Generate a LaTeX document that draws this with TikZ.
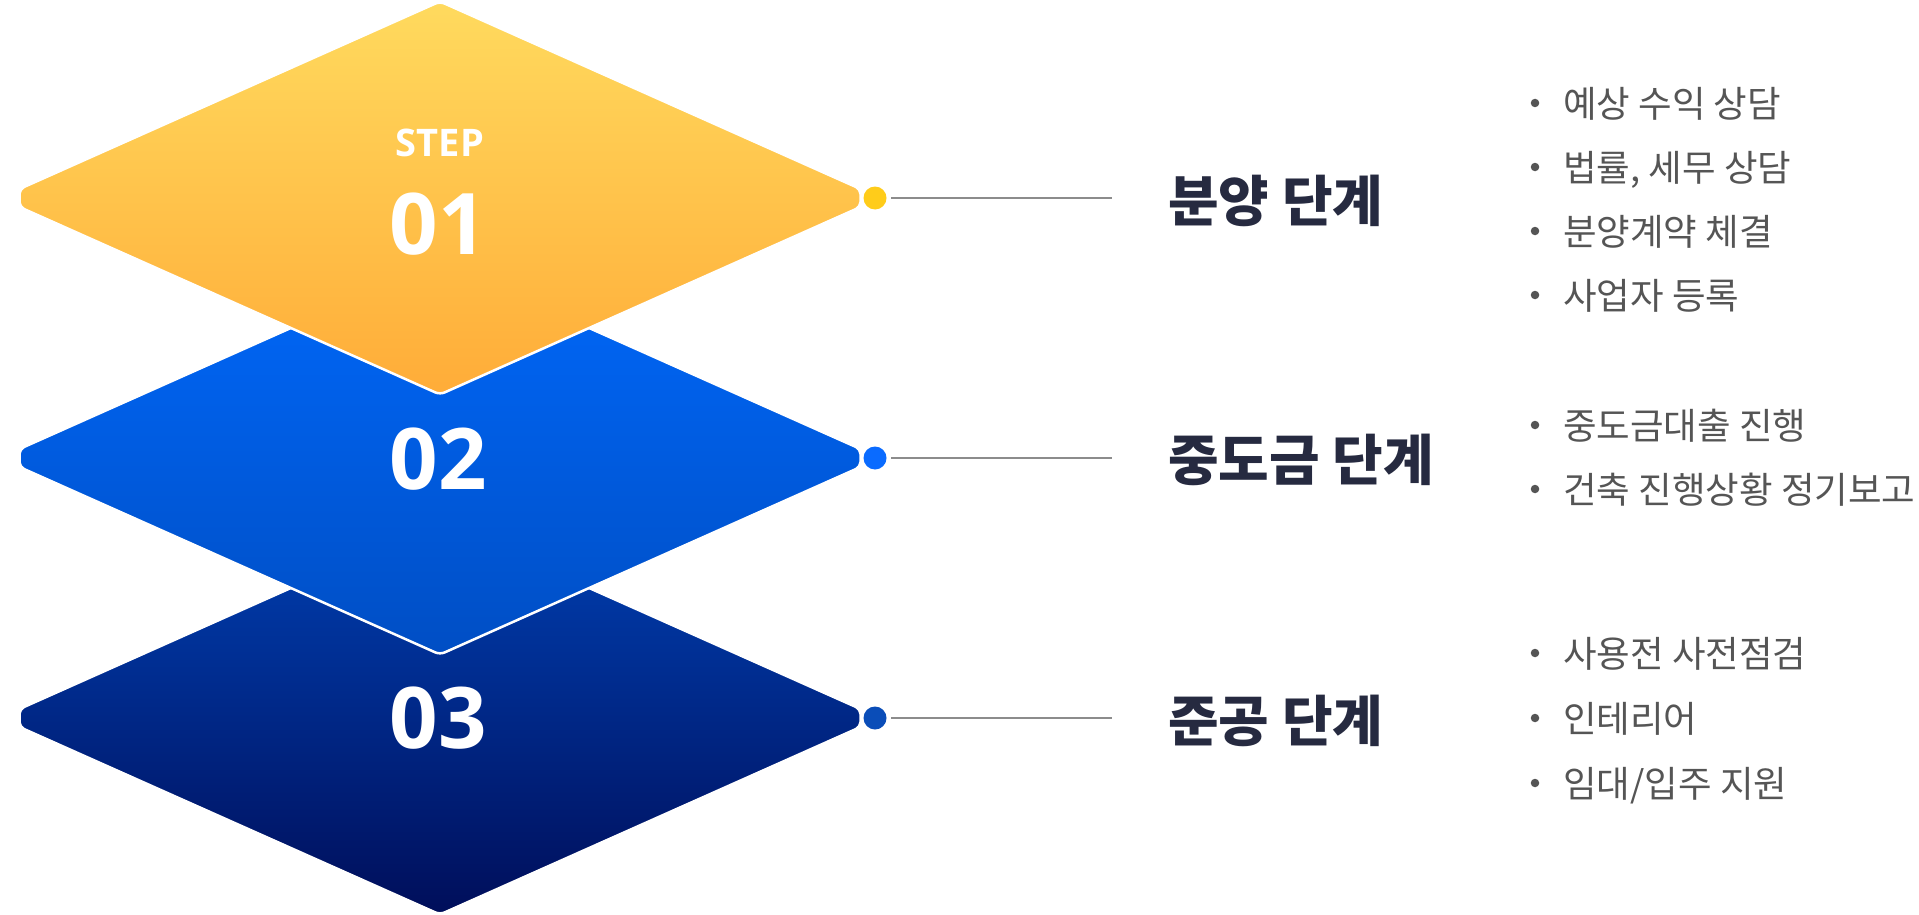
\documentclass[tikz,border=0pt]{standalone}
\usepackage{fontspec}
\newfontfamily\krfont{Noto Sans CJK KR}
\newfontfamily\osfont{Open Sans}
\definecolor{yTop}{HTML}{FFDA5E}
\definecolor{yBot}{HTML}{FFAC38}
\definecolor{bTop}{HTML}{0068FA}
\definecolor{bBot}{HTML}{004EC4}
\definecolor{nTop}{HTML}{0040B2}
\definecolor{nBot}{HTML}{000E5A}
\definecolor{dotY}{HTML}{FFCC1A}
\definecolor{dotB}{HTML}{0A6BFF}
\definecolor{dotN}{HTML}{0A4DB8}
\definecolor{titleC}{HTML}{262A40}
\definecolor{textC}{HTML}{555555}
\definecolor{lineC}{HTML}{8C8C8C}
\newcommand{\diapath}{(440,1.5) -- (860.5,189) -- (860.5,207) -- (440,394.5) -- (19.5,207) -- (19.5,189) -- cycle}
\begin{document}
\begin{tikzpicture}[x=1pt,y=-1pt,
  diashape/.style={draw=white,line width=2.5pt,rounded corners=5pt},
  stepdot/.style={circle,inner sep=0pt,minimum size=23pt},
  link/.style={draw=lineC,line width=2.2pt,shorten <=4.5pt},
  title/.style={anchor=base west,inner sep=0pt,text=titleC,font=\krfont\bfseries\fontsize{55}{60}\selectfont},
  item/.style={anchor=base west,inner sep=0pt,text=textC,font=\krfont\fontsize{36.5}{42}\selectfont},
  bul/.style={circle,fill=textC,inner sep=0pt,minimum size=8.5pt},
  num/.style={inner sep=0pt,text=white,font=\osfont\bfseries\fontsize{85}{90}\selectfont},
  steplbl/.style={inner sep=0pt,text=white,font=\osfont\bfseries\fontsize{38}{42}\selectfont}]
\useasboundingbox (0,0) rectangle (1919,915);
\fill[white] (0,0) rectangle (1919,915);
% diamonds (bottom first)
\shadedraw[diashape,shift={(0,520)},top color=nTop,bottom color=nBot] \diapath;
\shadedraw[diashape,shift={(0,260)},top color=bTop,bottom color=bBot] \diapath;
\shadedraw[diashape,top color=yTop,bottom color=yBot] \diapath;
% numbers
\node[steplbl] (step) at (440,143) {STEP};
\node[num] (n1) at (438,224) {01};
\node[num] (n2) at (438,459) {02};
\node[num] (n3) at (438,718) {03};
% dots
\node[stepdot,fill=dotY] (d1) at (875,198) {};
\node[stepdot,fill=dotB] (d2) at (875,458) {};
\node[stepdot,fill=dotN] (d3) at (875,718) {};
\coordinate (e1) at (1112,198);
\coordinate (e2) at (1112,458);
\coordinate (e3) at (1112,718);
\draw[link] (d1.east) -- (e1);
\draw[link] (d2.east) -- (e2);
\draw[link] (d3.east) -- (e3);
% titles
\node[title] (t1) at (1168,221.3) {분양 단계};
\node[title] (t2) at (1168,480.3) {중도금 단계};
\node[title] (t3) at (1168,741.3) {준공 단계};
% bullet items
\foreach \nm/\yy/\txt in {a1/103/{예상 수익 상담}, a2/167/{법률, 세무 상담}, a3/231/{분양계약 체결}, a4/295/{사업자 등록},
  b1/425/{중도금대출 진행}, b2/489/{건축 진행상황 정기보고},
  c1/653/{사용전 사전점검}, c2/718/{인테리어}, c3/783/{임대/입주 지원}}{
  \node[bul] (\nm b) at (1535,\yy) {};
  \node[item] (\nm) at (1563,\yy+14.2) {\txt};
}
\end{tikzpicture}
\end{document}
